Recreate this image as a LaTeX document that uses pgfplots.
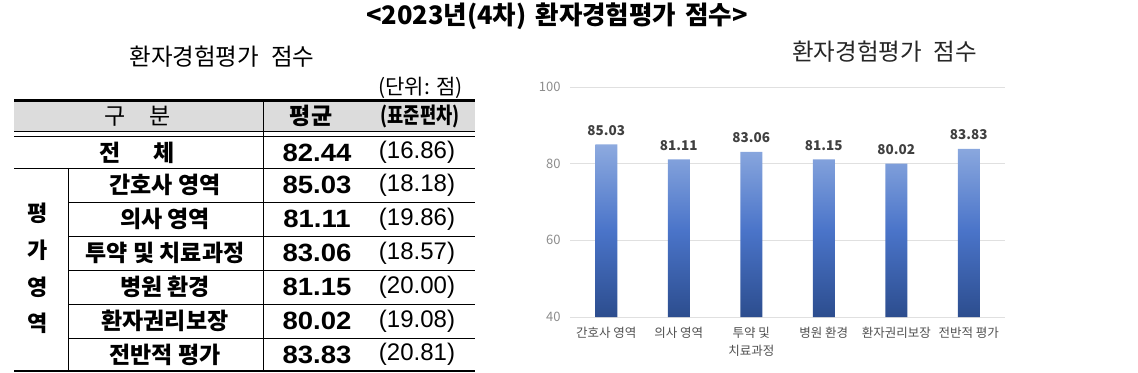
\documentclass[border=0pt]{standalone}
\usepackage{pgfplots}
\pgfplotsset{compat=1.18}
\usepackage{fontspec}
\setmainfont{Noto Sans CJK KR}
\newfontfamily\arial{Liberation Sans}
\definecolor{barTop}{HTML}{8DAADF}
\definecolor{barMid}{HTML}{4A74C9}
\definecolor{barBot}{HTML}{2C4D8E}
\definecolor{hdr}{HTML}{DCDCDC}
\definecolor{txt}{HTML}{404040}
\definecolor{xlab}{HTML}{505050}
\definecolor{ylab}{HTML}{8C8C8C}
\newcommand{\fs}[1]{\fontsize{#1bp}{#1bp}\selectfont}
\begin{document}
\begin{tikzpicture}
\useasboundingbox (0,0) rectangle (1138bp,373bp);
\begin{scope}[x=1bp,y=-1bp,yshift=373bp]
% main title
\node at (557,16) {\fs{25.5}\bfseries <2023년(4차)\hspace{9bp}환자경험평가\hspace{9bp}점수>};
% table title
\node at (222,57) {\fs{23.5}환자경험평가\hspace{12bp}점수};
\node[anchor=east,inner sep=0pt] at (463,88) {\fs{21}(단위: 점)};
% table
\fill[hdr] (14,102) rectangle (475,131);
\draw[line width=3bp] (14,101) -- (475,101);
\draw[line width=0.9bp] (14,131.5) -- (475,131.5);
\draw[line width=1.4bp] (14,136.5) -- (475,136.5);
\draw[line width=0.8bp] (14,168) -- (475,168);
\foreach \yy in {202,236,270,304,338} \draw[line width=0.8bp] (68,\yy) -- (475,\yy);
\draw[line width=2.5bp] (14,371) -- (475,371);
\draw[line width=0.8bp] (68,168) -- (68,371);
\draw[line width=0.9bp] (263,101) -- (263,371);
% header
\node at (138,116) {\fs{23}구\hspace{24bp}분};
\node at (311,116) {\fs{23}\bfseries 평균};
\node[xscale=0.8] at (420,116) {\fs{22}\bfseries (표준편차)};
% left column
\node at (38,213) {\fs{22}\bfseries 평};
\node at (38,250) {\fs{22}\bfseries 가};
\node at (38,287) {\fs{22}\bfseries 영};
\node at (38,323) {\fs{22}\bfseries 역};
% row labels
\node at (137,152.5) {\fs{23}\bfseries 전\hspace{33bp}체};
\node at (165,185) {\fs{23}\bfseries 간호사 영역};
\node at (165,219) {\fs{23}\bfseries 의사 영역};
\node at (165,253) {\fs{23}\bfseries 투약 및 치료과정};
\node at (165,287) {\fs{23}\bfseries 병원 환경};
\node at (165,321) {\fs{23}\bfseries 환자권리보장};
\node at (165,354.5) {\fs{23}\bfseries 전반적 평가};
% numbers
\foreach \yy/\m/\s in {152.5/82.44/16.86,185/85.03/18.18,219/81.11/19.86,253/83.06/18.57,287/81.15/20.00,321/80.02/19.08,354.5/83.83/20.81}{
  \node[xscale=1.1] at (317,\yy) {\arial\fs{25}\bfseries \m};
  \node at (417,\yy) {\arial\fs{24}(\s)};
}
% chart title
\node[anchor=west,inner sep=0pt,text=black!85] at (792,52) {\fs{23.5}환자경험평가\hspace{12bp}점수};
\end{scope}
\begin{axis}[
  at={(570bp,56bp)}, anchor=south west,
  scale only axis, width=435bp, height=230bp,
  xmin=-0.5, xmax=5.5, ymin=40, ymax=100,
  y coord trafo/.code={\pgfmathparse{#1-40}},
  y coord inv trafo/.code={\pgfmathparse{#1+40}},
  ytick={40,60,80,100}, yticklabels={40,60,80,100},
  xtick={0,1,2,3,4,5},
  xticklabels={간호사 영역, 의사 영역, {투약 및\\치료과정}, 병원 환경, 환자권리보장, 전반적 평가},
  xticklabel style={align=center, font=\fontsize{12.5bp}{18bp}\selectfont, text=xlab, yshift=-7bp},
  yticklabel style={font=\fs{13}, text=ylab, xshift=-6bp},
  axis line style={draw=none},
  major tick length=0pt,
  ymajorgrids, grid style={line width=1bp, color=black!12},
  point meta=explicit symbolic,
  nodes near coords,
  every node near coord/.append style={font=\fs{13.5}\bfseries, text=txt, yshift=5.5bp},
  clip=false,
]
\addplot[ybar, bar width=22bp, bar shift=0pt, draw=none, top color=barTop, bottom color=barBot, middle color=barMid]
  coordinates {(0,85.03) [85.03] (1,81.11) [81.11] (2,83.06) [83.06] (3,81.15) [81.15] (4,80.02) [80.02] (5,83.83) [83.83]};
\end{axis}
\end{tikzpicture}
\end{document}
